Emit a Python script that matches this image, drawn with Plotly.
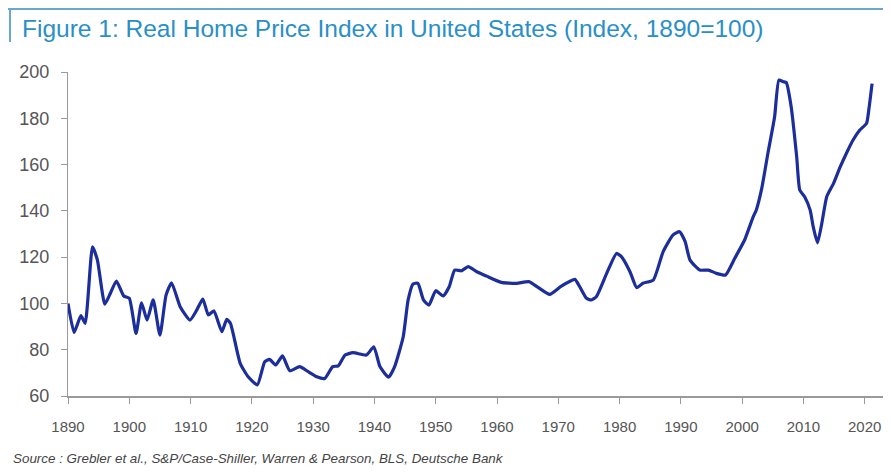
import plotly.graph_objects as go

years = [1890.0, 1891.0, 1892.1, 1892.8, 1894.0, 1894.8, 1896.0, 1896.9, 1897.9, 1899.1,
         1900.0, 1901.1, 1902.0, 1902.9, 1903.9, 1905.0, 1906.0, 1906.9, 1908.3, 1909.9,
         1911.0, 1912.0, 1912.9, 1913.8, 1915.1, 1915.9, 1916.5, 1918.1, 1919.4, 1920.9,
         1922.1, 1922.9, 1923.9, 1925.0, 1926.2, 1927.8, 1929.2, 1930.6, 1931.9, 1933.2,
         1934.1, 1935.2, 1936.5, 1938.7, 1939.9, 1940.9, 1942.3, 1943.3, 1944.7, 1945.5,
         1946.3, 1947.1, 1948.0, 1948.9, 1950.0, 1951.2, 1952.2, 1953.1, 1954.2, 1955.3,
         1956.7, 1958.3, 1960.7, 1963.2, 1965.2, 1966.7, 1968.6, 1970.5, 1972.7, 1973.5,
         1974.6, 1975.4, 1976.2, 1977.9, 1979.5, 1980.3, 1981.7, 1982.8, 1983.8, 1985.5,
         1987.1, 1988.7, 1989.8, 1990.7, 1991.5, 1993.1, 1994.5, 1995.8, 1997.3, 1998.8,
         2000.4, 2001.8, 2002.3, 2003.2, 2004.2, 2005.3, 2006.0, 2006.7, 2007.2, 2008.0,
         2008.9, 2009.4, 2010.2, 2011.1, 2011.6, 2012.3, 2013.0, 2013.8, 2014.9, 2016.0,
         2017.0, 2018.1, 2019.2, 2020.3, 2020.7, 2021.2]
index_values = [100.0, 87.5, 94.7, 91.4, 124.5, 118.7, 99.7, 104.3, 109.7, 103.2,
                102.2, 87.0, 100.3, 92.8, 101.5, 86.3, 103.6, 108.9, 98.6, 92.8,
                97.1, 101.9, 95.0, 96.8, 87.8, 93.1, 91.4, 74.1, 68.3, 64.8,
                74.8, 75.8, 73.4, 77.3, 70.9, 72.7, 70.5, 68.3, 67.6, 72.7,
                73.0, 77.7, 78.7, 77.7, 81.3, 72.7, 68.1, 72.7, 85.6, 101.5,
                108.4, 108.7, 101.5, 99.3, 105.5, 103.2, 107.2, 114.4, 114.1, 115.9,
                113.7, 111.8, 109.1, 108.7, 109.4, 106.9, 103.9, 107.5, 110.4, 107.2,
                102.2, 101.5, 102.9, 113.0, 121.6, 120.2, 113.7, 106.8, 108.7, 110.1,
                122.3, 129.5, 131.0, 126.7, 118.7, 114.4, 114.4, 113.0, 112.3, 119.5,
                127.4, 137.4, 140.3, 149.7, 164.8, 180.7, 196.5, 195.8, 195.4, 185.0,
                163.4, 149.0, 146.1, 140.3, 133.1, 126.2, 134.6, 146.1, 151.8, 159.0,
                164.8, 170.6, 174.9, 177.8, 184.3, 195.0]

x_ticks = list(range(1890, 2021, 10))
y_ticks = list(range(60, 201, 20))

title_text = "Figure 1: Real Home Price Index in United States (Index, 1890=100)"
source_text = "Source : Grebler et al., S&P/Case-Shiller, Warren & Pearson, BLS, Deutsche Bank"

fig = go.Figure()
fig.add_trace(go.Scatter(
    x=years, y=index_values, mode="lines",
    line=dict(color="#1c2d9c", width=3.2, shape="spline", smoothing=0.5),
    showlegend=False, hoverinfo="x+y",
))

FONT = "Liberation Sans, Arial, sans-serif"
PW, PH = 820, 324  # plot area size in px

fig.update_layout(
    width=883, height=466,
    margin=dict(l=60, r=3, t=64, b=78),
    paper_bgcolor="white", plot_bgcolor="white",
    font=dict(family=FONT, color="#555555"),
    xaxis=dict(
        range=[1890, 2023.8], tickmode="array", tickvals=x_ticks,
        ticktext=[str(t) for t in x_ticks],
        showgrid=False, zeroline=False,
        showline=True, linecolor="#9a9a9a", linewidth=2,
        ticks="outside", ticklen=6, tickcolor="#9a9a9a", tickwidth=1,
        tickfont=dict(size=15, color="#555555"),
        ticklabelstandoff=10,
    ),
    yaxis=dict(
        range=[60, 200], tickmode="array", tickvals=y_ticks,
        showgrid=False, zeroline=False,
        showline=True, linecolor="#9a9a9a", linewidth=1,
        ticks="outside", ticklen=6, tickcolor="#9a9a9a", tickwidth=1,
        tickfont=dict(size=18, color="#555555"),
        ticklabelstandoff=8,
    ),
    shapes=[
        dict(type="line", xref="paper", yref="paper", x0=-60/PW, x1=823/PW,
             y0=387/PH, y1=387/PH, line=dict(color="#6aa7cc", width=2)),
        dict(type="line", xref="paper", yref="paper", x0=-58/PW, x1=-58/PW,
             y0=387/PH, y1=354/PH, line=dict(color="#6aa7cc", width=2)),
    ],
    annotations=[
        dict(text=title_text, xref="paper", yref="paper",
             x=-48/PW, y=368/PH, xanchor="left", yanchor="middle",
             showarrow=False, font=dict(size=24.5, color="#2a8fc8")),
        dict(text="<i>" + source_text + "</i>", xref="paper", yref="paper",
             x=-57/PW, y=-62/PH, xanchor="left", yanchor="middle",
             showarrow=False, font=dict(size=13.4, color="#444444")),
    ],
)

fig.write_html("out.html")
